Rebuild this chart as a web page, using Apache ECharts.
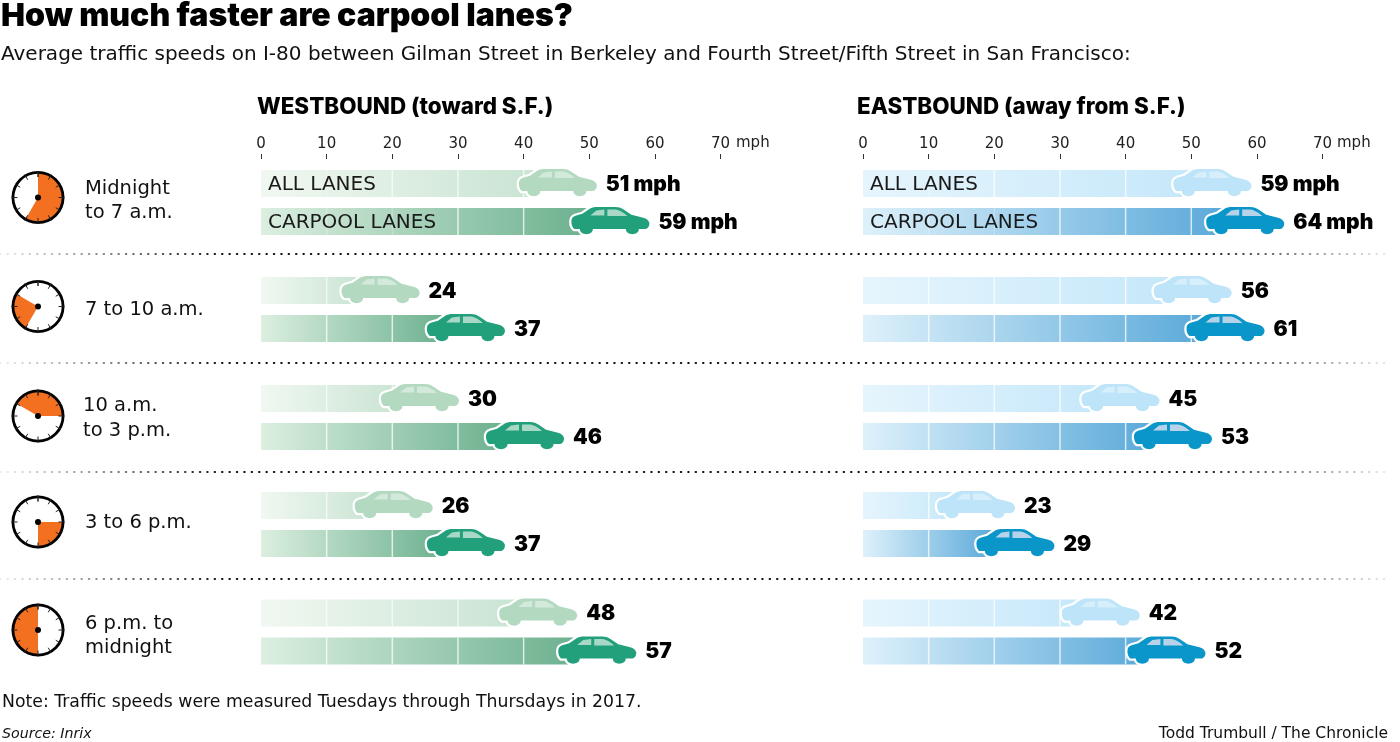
<!DOCTYPE html>
<html><head><meta charset="utf-8">
<style>html,body{margin:0;padding:0;background:#fff}#c{width:1400px;height:742px}</style>
<script src="https://cdn.jsdelivr.net/npm/echarts@6/dist/echarts.min.js"></script>
</head><body><div id="c"></div>
<script>
const lanes = ['ALL LANES', 'CARPOOL LANES'];
const axisTicks = [0, 10, 20, 30, 40, 50, 60, 70];
const westAll = [51, 24, 30, 26, 48];
const westCarpool = [59, 37, 46, 37, 57];
const eastAll = [59, 56, 45, 23, 42];
const eastCarpool = [64, 61, 53, 29, 52];
const clockStartHour = [0, 7, 10, 3, 6];
const clockSpanHours = [7, 3, 5, 3, 6];
const periodLines = [['Midnight', 'to 7 a.m.'], ['7 to 10 a.m.'], ['10 a.m.', 'to 3 p.m.'], ['3 to 6 p.m.'], ['6 p.m. to', 'midnight']];

const rowTop = [164.5, 271.5, 379.5, 486.5, 594];
const clockY = [197.5, 306.5, 416, 522, 630];
const labelY = [[189, 213], [310], [406, 431], [523], [624, 648]];
const labelX = [85, 85, 83, 85, 85];
const sepY = [254, 363, 472, 579];
const F = '"DejaVu Sans", sans-serif';
const H = 'Inter, "Open Sans", sans-serif';

const CAR = 'M3,22.5 C1,21 0,18 0,15 C0,12 1,10 4,9 L11,7 L18,2 C20,0.5 23,0 26,0 L44,0 C48,0 50,1 53,3 L60,8 L72,11 C76,12 78,15 78,17 C78,20 76,22.5 73,22.5 L67.5,22.5 C67.5,29.5 54.5,29.5 54.5,22.5 L21.5,22.5 C21.5,29.5 8.5,29.5 8.5,22.5 Z';
const WIN = 'M19,8.5 L25,3.5 L33,2.5 L33,8.5 Z M36,2.5 L44,2.5 C48,3 53,6 56,9 L36,9 Z';
const palette = {
  west: [
    {from: '#f1f8f1', to: '#c9e4d3', car: '#b4d9c1', win: '#d3e9db', line: 'rgba(255,255,255,.65)'},
    {from: '#dcefe0', to: '#6bb08e', car: '#22a07c', win: '#a9d8c6', line: 'rgba(255,255,255,.75)'}
  ],
  east: [
    {from: '#e6f5fd', to: '#c6e8fa', car: '#bde4f9', win: '#d6effb', line: 'rgba(255,255,255,.75)'},
    {from: '#def1fb', to: '#5aa9d9', car: '#0a96c9', win: '#b7d3ea', line: 'rgba(255,255,255,.75)'}
  ]
};

function makeRender(side, row) {
  return function (params, api) {
    const v = api.value(0), lane = api.value(1);
    const p = api.coord([v, lane]);
    const x0 = api.coord([0, lane])[0];
    const c = palette[side][lane];
    const carW = 78, carH = 27.25, barH = 27;
    const barEnd = p[0] - 58;
    const kids = [{
      type: 'rect',
      shape: {x: x0, y: p[1] - barH / 2, width: barEnd - x0, height: barH},
      style: {fill: new echarts.graphic.LinearGradient(0, 0, 1, 0, [{offset: 0, color: c.from}, {offset: 1, color: c.to}])}
    }];
    axisTicks.forEach(t => {
      if (t === 0) return;
      const tx = api.coord([t, lane])[0];
      if (tx >= barEnd) return;
      const faint = row === 0 && t <= (lane === 0 ? 10 : 20);
      kids.push({type: 'line', shape: {x1: tx, y1: p[1] - barH / 2, x2: tx, y2: p[1] + barH / 2}, style: {stroke: c.line, lineWidth: 1.5, opacity: faint ? .35 : 1}});
    });
    const cx = p[0] - carW + 1, cy = p[1] - 14.5;
    kids.push({type: 'path', shape: {pathData: CAR, layout: 'cover', x: cx, y: cy, width: carW, height: carH}, style: {fill: '#fff', stroke: '#fff', lineWidth: 4.5, lineJoin: 'round'}});
    kids.push({type: 'path', shape: {pathData: CAR, layout: 'cover', x: cx, y: cy, width: carW, height: carH}, style: {fill: c.car}});
    kids.push({type: 'path', shape: {pathData: WIN, layout: 'cover', x: cx + 19, y: cy + 2.5, width: 37, height: 6.5}, style: {fill: c.win}});
    if (row === 0) {
      kids.push({type: 'text', x: x0 + 7, y: p[1] + 1.5, style: {text: lanes[lane], fill: '#1a1a1a', font: '20px ' + F, textVerticalAlign: 'middle', textBaseline: 'middle'}});
    }
    kids.push({type: 'text', x: p[0] + 10, y: p[1] + 1, style: {text: row === 0 ? v + ' mph' : String(v), fill: '#000', font: '900 21px ' + H, textVerticalAlign: 'middle', textBaseline: 'middle'}});
    return {type: 'group', children: kids};
  };
}

const grids = [], xAxes = [], yAxes = [], series = [];
[['west', 261, westAll, westCarpool], ['east', 863, eastAll, eastCarpool]].forEach(([side, left, all, car]) => {
  rowTop.forEach((top, row) => {
    const i = grids.length;
    grids.push({left: left, top: top, width: 459.6, height: 76});
    xAxes.push({
      gridIndex: i, type: 'value', min: 0, max: 70, interval: 10, position: 'top', offset: 5.5,
      show: row === 0, splitLine: {show: false}, axisLine: {show: false},
      axisTick: {show: row === 0, length: 5, lineStyle: {color: '#333', width: 1}},
      axisLabel: {show: row === 0, margin: 7, fontFamily: F, fontSize: 15, color: '#222', hideOverlap: false}
    });
    yAxes.push({
      gridIndex: i, type: 'category', data: lanes, inverse: true, show: false
    });
    series.push({
      type: 'custom', xAxisIndex: i, yAxisIndex: i, renderItem: makeRender(side, row), clip: false, z: 3,
      encode: {x: 0, y: 1}, silent: true,
      data: [[all[row], 0], [car[row], 1]]
    });
  });
});

clockStartHour.forEach((h, i) => {
  series.push({
    type: 'pie', center: [38, clockY[i]], radius: [0, 24.5], startAngle: 90 - h * 30, clockwise: true, silent: true,
    label: {show: false}, labelLine: {show: false}, z: 4,
    data: [{value: clockSpanHours[i], itemStyle: {color: '#f37021'}}, {value: 12 - clockSpanHours[i], itemStyle: {color: 'rgba(255,255,255,0)'}}]
  });
  series.push({
    type: 'gauge', center: [38, clockY[i]], radius: 26.5, min: 0, max: 12, splitNumber: 12, startAngle: 90, endAngle: -270, silent: true, z: 5,
    axisLine: {lineStyle: {width: 2.8, color: [[1, '#000']]}},
    axisTick: {show: false},
    splitLine: {distance: -2.8, length: 6, lineStyle: {color: '#222', width: 1}},
    axisLabel: {show: false}, pointer: {show: false}, title: {show: false}, detail: {show: false},
    anchor: {show: true, showAbove: true, size: 6, itemStyle: {color: '#000', borderWidth: 0}},
    data: [{value: 0}]
  });
});

const graphic = [];
function T(text, x, y, font, extra) {
  graphic.push({type: 'text', x, y, z: 20, silent: true, style: Object.assign({text, font, fill: '#111', textVerticalAlign: 'middle'}, extra || {})});
}
T('How much faster are carpool lanes?', 1, 16, '900 32px ' + H, {fill: '#000'});
T('Average traffic speeds on I-80 between Gilman Street in Berkeley and Fourth Street/Fifth Street in San Francisco:', 1, 55, '20px ' + F);
T('WESTBOUND (toward S.F.)', 257, 107, '800 22.4px ' + H, {fill: '#000'});
T('EASTBOUND (away from S.F.)', 857, 107, '800 22.4px ' + H, {fill: '#000'});
T('mph', 736, 143, '15px ' + F, {fill: '#222'});
T('mph', 1337, 143, '15px ' + F, {fill: '#222'});
periodLines.forEach((lines, i) => lines.forEach((s, j) => T(s, labelX[i], labelY[i][j], '19.5px ' + F)));
T('Note: Traffic speeds were measured Tuesdays through Thursdays in 2017.', 2, 703, '17.3px ' + F);
T('Source: Inrix', 2, 734, 'italic 14.2px ' + F);
T('Todd Trumbull / The Chronicle', 1388, 734, '15.5px ' + F, {textAlign: 'right'});
sepY.forEach(y => graphic.push({
  type: 'line', z: 1, silent: true, shape: {x1: 0, y1: y, x2: 1390, y2: y},
  style: {lineWidth: 2, lineCap: 'round', lineDash: [0.5, 6.9], stroke: new echarts.graphic.LinearGradient(0, 0, 1390, 0, [
    {offset: 0, color: 'rgba(0,0,0,.08)'}, {offset: .16, color: 'rgba(0,0,0,.95)'}, {offset: .86, color: 'rgba(0,0,0,.95)'}, {offset: 1, color: 'rgba(0,0,0,.08)'}
  ], true)}
}));

const chart = echarts.init(document.getElementById('c'), null, {renderer: 'canvas'});
chart.setOption({animation: false, backgroundColor: '#fff', grid: grids, xAxis: xAxes, yAxis: yAxes, series, graphic});
</script></body></html>
